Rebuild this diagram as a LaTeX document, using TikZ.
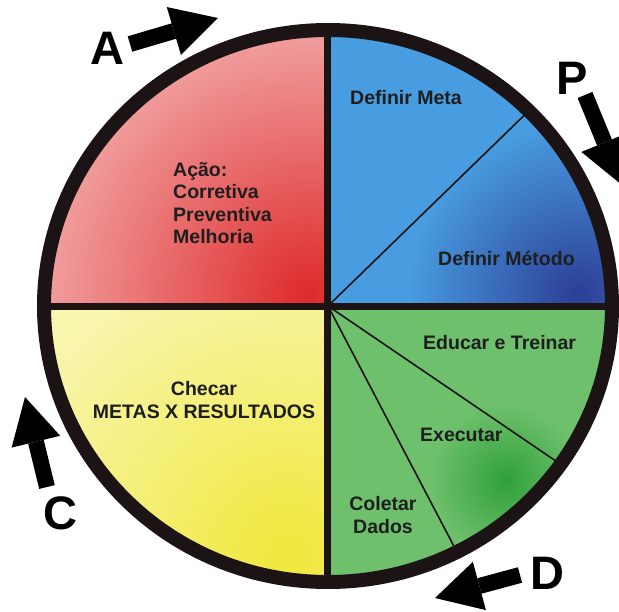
\documentclass[tikz,border=0pt]{standalone}
\usepackage{fontspec}
\setmainfont{Liberation Sans}
\usetikzlibrary{arrows.meta}

\definecolor{ringcol}{RGB}{28,20,20}
\definecolor{txtcol}{RGB}{30,30,30}
\definecolor{redlight}{RGB}{243,170,170}
\definecolor{reddark}{RGB}{222,42,42}
\definecolor{bluelight}{RGB}{72,156,224}
\definecolor{bluedark}{RGB}{44,62,150}
\definecolor{greenlight}{RGB}{110,192,108}
\definecolor{greendark}{RGB}{48,160,58}
\definecolor{yellowlight}{RGB}{248,245,172}
\definecolor{yellowdark}{RGB}{240,232,58}

\begin{document}
\begin{tikzpicture}[x=1pt,y=1pt,
    lbl/.style={font=\bfseries\fontsize{19.5}{22.5}\selectfont, text=txtcol, inner sep=0pt},
    letter/.style={font=\bfseries\fontsize{47}{47}\selectfont, text=black, inner sep=0pt},
    bigarrow/.style={draw=black, line width=16pt, -{Triangle[width=50pt,length=46pt,line width=0pt]}},
    thinline/.style={draw=ringcol, line width=1.6pt}]
        \useasboundingbox (-328,-305) rectangle (291,306);
        \clip (-328,-305) rectangle (291,306);
        \fill[white] (-328,-305) rectangle (291,306);
        \coordinate (O) at (0,0);

        \begin{scope}
            \clip (O) -- (180:284pt and 276pt) arc[start angle=180, end angle=90, x radius=284, y radius=276] -- cycle;
            \fill[redlight] (-290,-5) rectangle (5,290);
            \shade[inner color=reddark, outer color=redlight] (-20,10) circle (290);
        \end{scope}
        \begin{scope}
            \clip (O) -- (90:284pt and 276pt) arc[start angle=90, end angle=0, x radius=284, y radius=276] -- cycle;
            \fill[bluelight] (-5,-5) rectangle (290,290);
            \shade[inner color=bluedark, outer color=bluelight] (250,12) circle (170);
        \end{scope}
        \begin{scope}
            \clip (O) -- (0:284pt and 276pt) arc[start angle=0, end angle=-90, x radius=284, y radius=276] -- cycle;
            \fill[greenlight] (-5,5) rectangle (290,-290);
            \shade[inner color=greendark, outer color=greenlight] (177,-174) circle (75);
        \end{scope}
        \begin{scope}
            \clip (O) -- (-90:284pt and 276pt) arc[start angle=-90, end angle=-180, x radius=284, y radius=276] -- cycle;
            \fill[yellowlight] (5,5) rectangle (-290,-290);
            \shade[inner color=yellowdark, outer color=yellowlight] (-40,-250) circle (300);
        \end{scope}

        \draw[thinline] (O) -- (45:284pt and 276pt);
        \draw[thinline] (O) -- (-35:284pt and 276pt);
        \draw[thinline] (O) -- (-63:284pt and 276pt);
        \draw[ringcol, line width=7pt] (-284,0) -- (284,0);
        \draw[ringcol, line width=7pt] (0,-276) -- (0,276);
        \draw[ringcol, line width=14pt] (O) ellipse[x radius=284, y radius=276];

        \node[lbl, anchor=west, align=left] (acao) at (-155,103) {Ação:\\Corretiva\\Preventiva\\Melhoria};
        \node[lbl, anchor=west] (meta) at (22,208) {Definir Meta};
        \node[lbl, anchor=west] (metodo) at (110,48) {Definir Método};
        \node[lbl, anchor=west] (educar) at (95,-37) {Educar e Treinar};
        \node[lbl, anchor=west] (executar) at (92,-129) {Executar};
        \node[lbl, align=center] (coletar) at (55,-209) {Coletar\\Dados};
        \node[lbl, align=center] (checar) at (-124,-94) {Checar\\METAS X RESULTADOS};

        \node[letter] (lA) at (-221,258) {A};
        \node[letter] (lP) at (244,228) {P};
        \node[letter] (lC) at (-268,-207) {C};
        \node[letter] (lD) at (219,-267) {D};

        \coordinate (a1) at (-198,262); \coordinate (a2) at (-110,288);
        \coordinate (p1) at (257,211); \coordinate (p2) at (294,121);
        \coordinate (c1) at (-281,-181); \coordinate (c2) at (-303,-91);
        \coordinate (d1) at (192,-269); \coordinate (d2) at (107,-292);
        \draw[bigarrow] (a1) -- (a2);
        \draw[bigarrow] (p1) -- (p2);
        \draw[bigarrow] (c1) -- (c2);
        \draw[bigarrow] (d1) -- (d2);
    \end{tikzpicture}
\end{document}
